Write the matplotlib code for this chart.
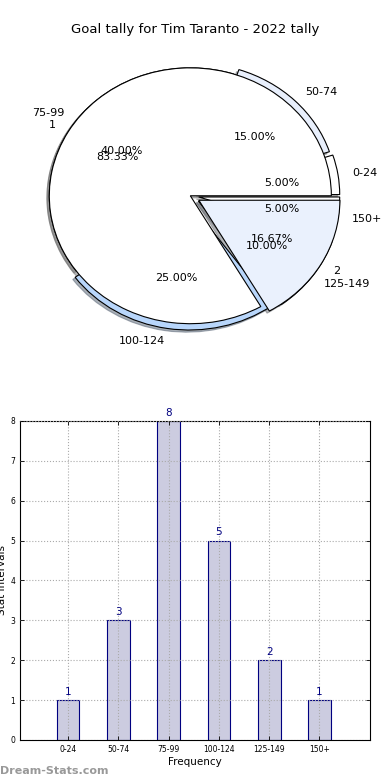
import numpy as np
import matplotlib.pyplot as plt

# data
intervals = ['0-24', '50-74', '75-99', '100-124', '125-149', '150+']
counts = [1, 3, 8, 5, 2, 1]
tally_labels = ['1', '2']
tally_counts = [5, 1]

title = 'Goal tally for Tim Taranto - 2022 tally'

fig = plt.figure(figsize=(3.9, 7.8), dpi=100)

shadow = {'ox': -0.012, 'oy': -0.012, 'shade': 0.55}

# pie charts (two overlaid)
ax1 = fig.add_axes([0.036, 0.544, 0.904, 0.41])
ax1.pie(counts, labels=intervals, autopct='%1.2f%%',
        explode=[0.06, 0.05, 0, 0.05, 0.07, 0.06], shadow=shadow,
        colors=['white', '#e8effc', 'white', '#b8d6fb', '#e8effc', 'white'],
        wedgeprops={'edgecolor': 'black', 'linewidth': 0.8},
        textprops={'fontsize': 8})
ax1.pie(tally_counts, labels=tally_labels, autopct='%1.2f%%',
        explode=[0, 0.07], shadow=shadow,
        colors=['white', '#eaf1fd'],
        wedgeprops={'edgecolor': 'black', 'linewidth': 0.8},
        textprops={'fontsize': 8})
ax1.set_aspect('auto')
ax1.set_xlim(-1.25, 1.25)
ax1.set_ylim(-1.25, 1.25)
fig.text(0.5, 0.962, title, ha='center', va='center', fontsize=9.5)

# bar chart
ax2 = fig.add_axes([0.051, 0.0513, 0.897, 0.409])
x = np.arange(len(intervals))
bars = ax2.bar(x, counts, width=0.45, color='#cccce0', edgecolor='#000080',
               linewidth=0.8)
for i, v in enumerate(counts):
    ax2.text(i, v + 0.08, str(v), ha='center', va='bottom', color='#000080',
             fontsize=7.5)
ax2.set_xlim(-0.96, 6.0)
ax2.set_ylim(0, 8)
ax2.set_xticks(x)
ax2.set_xticklabels(intervals, fontsize=5.5)
ax2.set_yticks(range(9))
ax2.tick_params(axis='y', labelsize=5.5)
ax2.tick_params(direction='in', top=True, right=True, length=3, width=0.6)
ax2.grid(True, linestyle=':', color='#aaaaaa', linewidth=0.8)
ax2.set_axisbelow(False)
for b in bars:
    b.set_zorder(1)
ax2.set_xlabel('Frequency', fontsize=7.5, labelpad=2)
ax2.set_ylabel('Stat Intervals', fontsize=7.5, labelpad=2)

fig.text(0.0, 0.012, 'Dream-Stats.com', color='#999999', fontsize=8,
         fontweight='bold', ha='left', va='center')

fig.savefig('out.png', dpi=100)
